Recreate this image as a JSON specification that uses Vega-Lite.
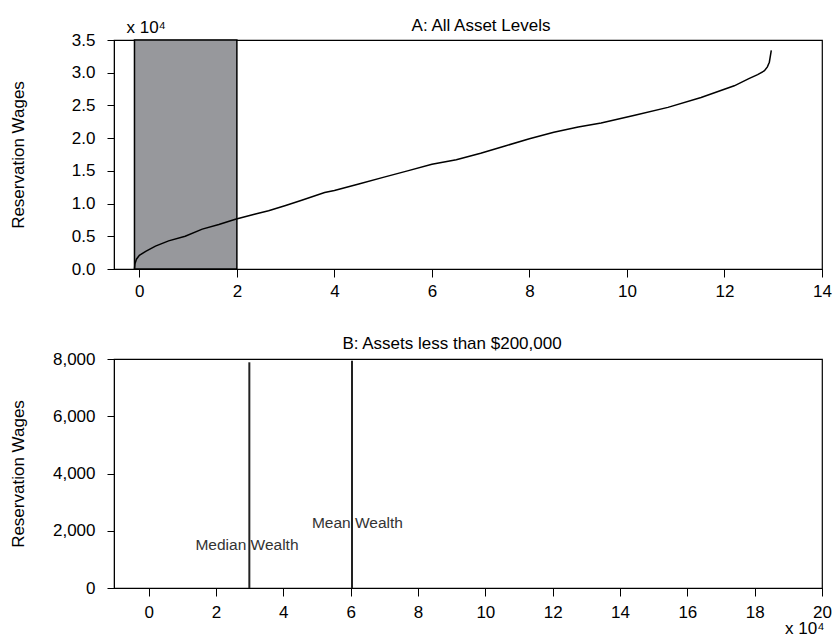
{
  "$schema": "https://vega.github.io/schema/vega-lite/v6.json",
  "background": "white",
  "padding": {"left": 8, "top": 16, "right": 5, "bottom": 0},
  "spacing": 34,
  "config": {
    "font": "Liberation Sans",
    "view": {"stroke": "black", "strokeWidth": 1.2},
    "axis": {"grid": false, "domainColor": "black", "tickColor": "black", "labelColor": "black", "titleColor": "black", "labelFontSize": 17, "titleFontSize": 17, "titleFontWeight": "normal", "tickSize": 8, "labelPadding": 6, "labelOverlap": false, "labelBound": false, "labelFlush": false},
    "title": {"fontSize": 17, "fontWeight": "normal", "color": "black"}
  },
  "datasets": {
    "curve": [
      {"w": -0.1, "r": 0.0}, {"w": -0.09, "r": 0.08}, {"w": -0.06, "r": 0.15}, {"w": 0.0, "r": 0.21},
      {"w": 0.13, "r": 0.27}, {"w": 0.33, "r": 0.35}, {"w": 0.6, "r": 0.43}, {"w": 0.94, "r": 0.5},
      {"w": 1.29, "r": 0.61}, {"w": 1.63, "r": 0.68}, {"w": 1.97, "r": 0.76}, {"w": 2.38, "r": 0.84},
      {"w": 2.65, "r": 0.89}, {"w": 3.0, "r": 0.97}, {"w": 3.33, "r": 1.05}, {"w": 3.8, "r": 1.17},
      {"w": 4.0, "r": 1.2}, {"w": 4.5, "r": 1.3}, {"w": 5.0, "r": 1.4}, {"w": 5.5, "r": 1.5},
      {"w": 6.0, "r": 1.6}, {"w": 6.5, "r": 1.67}, {"w": 7.0, "r": 1.77}, {"w": 7.5, "r": 1.88},
      {"w": 8.0, "r": 1.99}, {"w": 8.5, "r": 2.09}, {"w": 9.0, "r": 2.17}, {"w": 9.47, "r": 2.23},
      {"w": 10.16, "r": 2.35}, {"w": 10.84, "r": 2.47}, {"w": 11.52, "r": 2.62}, {"w": 12.2, "r": 2.8},
      {"w": 12.5, "r": 2.91}, {"w": 12.68, "r": 2.97}, {"w": 12.82, "r": 3.03}, {"w": 12.88, "r": 3.09},
      {"w": 12.92, "r": 3.16}, {"w": 12.96, "r": 3.34}
    ],
    "shade": [{"x1": -0.1, "x2": 2.0, "y1": 0, "y2": 3.5}],
    "vlines": [
      {"w": 2.99, "y1": 0, "y2": 7885},
      {"w": 6.04, "y1": 0, "y2": 7940}
    ],
    "labels": [
      {"w": 2.92, "r": 1510, "label": "Median Wealth"},
      {"w": 6.2, "r": 2268, "label": "Mean Wealth"}
    ],
    "exp": [{"w": 0.14, "r": 3.5, "label": "x 10⁴"}]
  },
  "vconcat": [
    {
      "width": 708,
      "height": 229,
      "title": {"text": "A: All Asset Levels", "dx": 13, "offset": -16},
      "layer": [
        {
          "data": {"name": "shade"},
          "mark": {"type": "rect", "fill": "#97989c", "stroke": "black", "strokeWidth": 1.5},
          "encoding": {
            "x": {"field": "x1", "type": "quantitative", "scale": {"domain": [-0.52, 14], "nice": false, "zero": false},
                  "axis": {"values": [0, 2, 4, 6, 8, 10, 12, 14], "format": "d", "title": null}},
            "x2": {"field": "x2"},
            "y": {"field": "y1", "type": "quantitative", "scale": {"domain": [0, 3.5], "nice": false},
                  "axis": {"values": [0, 0.5, 1, 1.5, 2, 2.5, 3, 3.5], "tickCount": 8, "format": ".1f", "title": "Reservation Wages", "labelPadding": 12, "tickSize": 7, "titleX": -96, "titleY": 114.5, "titleBaseline": "middle", "titleAngle": 270}},
            "y2": {"field": "y2"}
          }
        },
        {
          "data": {"name": "curve"},
          "mark": {"type": "line", "color": "black", "strokeWidth": 1.5},
          "encoding": {
            "x": {"field": "w", "type": "quantitative",
                  "axis": {"values": [0, 2, 4, 6, 8, 10, 12, 14], "format": "d", "title": null}},
            "y": {"field": "r", "type": "quantitative",
                  "axis": {"values": [0, 0.5, 1, 1.5, 2, 2.5, 3, 3.5], "tickCount": 8, "format": ".1f", "title": "Reservation Wages", "labelPadding": 12, "tickSize": 7, "titleX": -96, "titleY": 114.5, "titleBaseline": "middle", "titleAngle": 270}}
          }
        },
        {
          "data": {"name": "exp"},
          "mark": {"type": "text", "fontSize": 17, "color": "black", "dy": -12},
          "encoding": {
            "x": {"field": "w", "type": "quantitative",
                  "axis": {"values": [0, 2, 4, 6, 8, 10, 12, 14], "format": "d", "title": null}},
            "y": {"field": "r", "type": "quantitative",
                  "axis": {"values": [0, 0.5, 1, 1.5, 2, 2.5, 3, 3.5], "tickCount": 8, "format": ".1f", "title": "Reservation Wages", "labelPadding": 12, "tickSize": 7, "titleX": -96, "titleY": 114.5, "titleBaseline": "middle", "titleAngle": 270}},
            "text": {"field": "label"}
          }
        }
      ]
    },
    {
      "width": 708,
      "height": 229,
      "title": {"text": "B: Assets less than $200,000", "dx": -16, "offset": -3},
      "layer": [
        {
          "data": {"name": "vlines"},
          "mark": {"type": "rule", "color": "#222222", "strokeWidth": 2},
          "encoding": {
            "x": {"field": "w", "type": "quantitative", "scale": {"domain": [-1.03, 20], "nice": false, "zero": false},
                  "axis": {"values": [0, 2, 4, 6, 8, 10, 12, 14, 16, 18, 20], "format": "d", "labelPadding": 8, "title": "x 10⁴", "titleAnchor": "end", "titleAlign": "right", "titleX": 710, "titlePadding": 0}},
            "y": {"field": "y1", "type": "quantitative", "scale": {"domain": [0, 8000], "nice": false},
                  "axis": {"values": [0, 2000, 4000, 6000, 8000], "format": ",d", "title": "Reservation Wages", "labelPadding": 12, "tickSize": 7, "titleX": -96, "titleY": 114.5, "titleBaseline": "middle", "titleAngle": 270}},
            "y2": {"field": "y2"}
          }
        },
        {
          "data": {"name": "labels"},
          "mark": {"type": "text", "fontSize": 15.5, "color": "#333333"},
          "encoding": {
            "x": {"field": "w", "type": "quantitative",
                  "axis": {"values": [0, 2, 4, 6, 8, 10, 12, 14, 16, 18, 20], "format": "d", "labelPadding": 8, "title": "x 10⁴", "titleAnchor": "end", "titleAlign": "right", "titleX": 710, "titlePadding": 0}},
            "y": {"field": "r", "type": "quantitative",
                  "axis": {"values": [0, 2000, 4000, 6000, 8000], "format": ",d", "title": "Reservation Wages", "labelPadding": 12, "tickSize": 7, "titleX": -96, "titleY": 114.5, "titleBaseline": "middle", "titleAngle": 270}},
            "text": {"field": "label"}
          }
        }
      ]
    }
  ]
}
